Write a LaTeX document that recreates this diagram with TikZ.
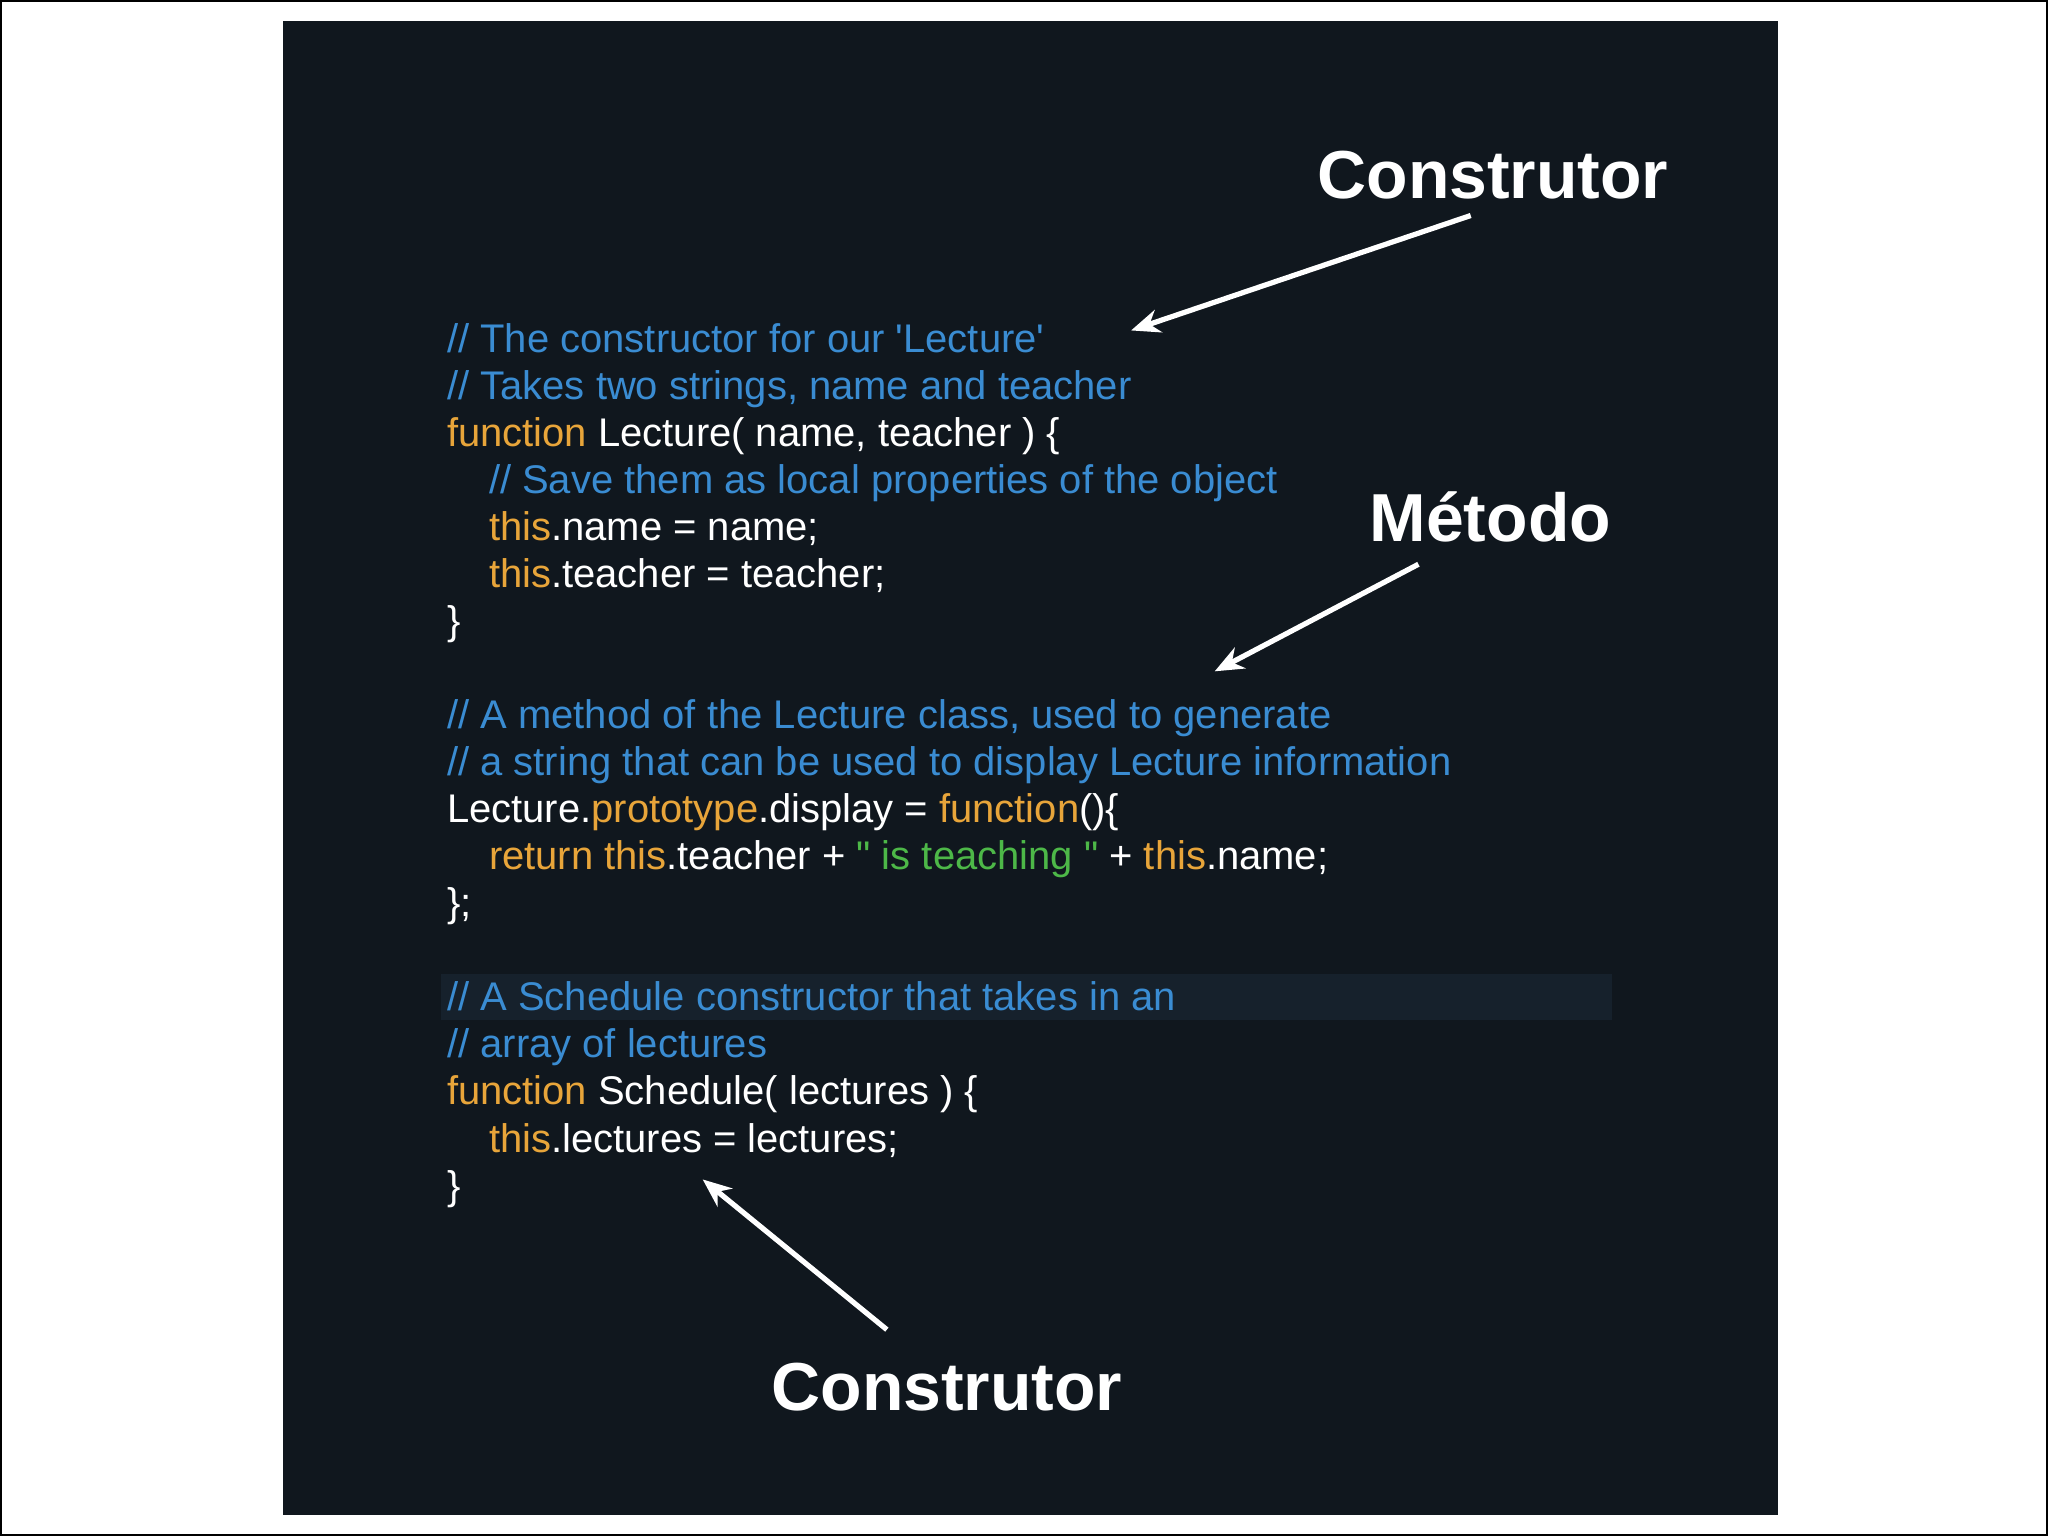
\documentclass[tikz,border=0pt]{standalone}
\usepackage{fontspec}
\newfontfamily\code{Liberation Sans}
\newfontfamily\lab{Liberation Sans}
\usetikzlibrary{arrows.meta}
\definecolor{bg}{HTML}{10171E}
\definecolor{hl}{HTML}{16212C}
\definecolor{cm}{HTML}{3A8CD2}
\definecolor{kw}{HTML}{E8A53A}
\definecolor{st}{HTML}{4DB848}
\begin{document}
\begin{tikzpicture}[x=0.5pt,y=-0.5pt,
  ln/.style={anchor=base west,inner sep=0pt,text=white,font=\code\fontsize{15.3}{17}\selectfont},
  lbl/.style={text=white,font=\lab\bfseries\fontsize{26}{30}\selectfont,inner sep=0pt},
  arr/.style={draw=white,line width=2pt,-{Stealth[length=11pt,width=9pt]}}]
\useasboundingbox (0,0) rectangle (1568,1176);
\draw[black,line width=0.8pt] (1,1) rectangle (1567,1175);
\fill[bg] (217,16) rectangle (1361,1160);
\fill[hl] (338,746) rectangle (1234,781);
\node[ln] (l1) at (342,270) {\color{cm}// The constructor for our 'Lecture'};
\node[ln] (l2) at (342,306) {\color{cm}// Takes two strings, name and teacher};
\node[ln] (l3) at (342,342) {\textcolor{kw}{function} Lecture( name, teacher ) \{};
\node[ln] (l4) at (374,378) {\color{cm}// Save them as local properties of the object};
\node[ln] (l5) at (374,414) {\textcolor{kw}{this}.name = name;};
\node[ln] (l6) at (374,450) {\textcolor{kw}{this}.teacher = teacher;};
\node[ln] (l7) at (342,486) {\}};
\node[ln] (l8) at (342,558) {\color{cm}// A method of the Lecture class, used to generate};
\node[ln] (l9) at (342,594) {\color{cm}// a string that can be used to display Lecture information};
\node[ln] (l10) at (342,630) {Lecture.\textcolor{kw}{prototype}.display = \textcolor{kw}{function}()\{};
\node[ln] (l11) at (374,666) {\textcolor{kw}{return this}.teacher + \textcolor{st}{" is teaching "} + \textcolor{kw}{this}.name;};
\node[ln] (l12) at (342,702) {\};};
\node[ln] (l13) at (342,774) {\color{cm}// A Schedule constructor that takes in an};
\node[ln] (l14) at (342,810) {\color{cm}// array of lectures};
\node[ln] (l15) at (342,846) {\textcolor{kw}{function} Schedule( lectures ) \{};
\node[ln] (l16) at (374,882) {\textcolor{kw}{this}.lectures = lectures;};
\node[ln] (l17) at (342,918) {\}};
\node[lbl] (c1) at (1143,134) {Construtor};
\node[lbl] (m) at (1141,396) {Método};
\node[lbl] (c2) at (725,1062) {Construtor};
\coordinate (c1s) at (1126,165); \coordinate (c1e) at (866,253);
\coordinate (ms) at (1086,432); \coordinate (me) at (930,514);
\coordinate (c2s) at (679,1018); \coordinate (c2e) at (538,903);
\draw[arr] (c1s) -- (c1e);
\draw[arr] (ms) -- (me);
\draw[arr] (c2s) -- (c2e);
\end{tikzpicture}
\end{document}
